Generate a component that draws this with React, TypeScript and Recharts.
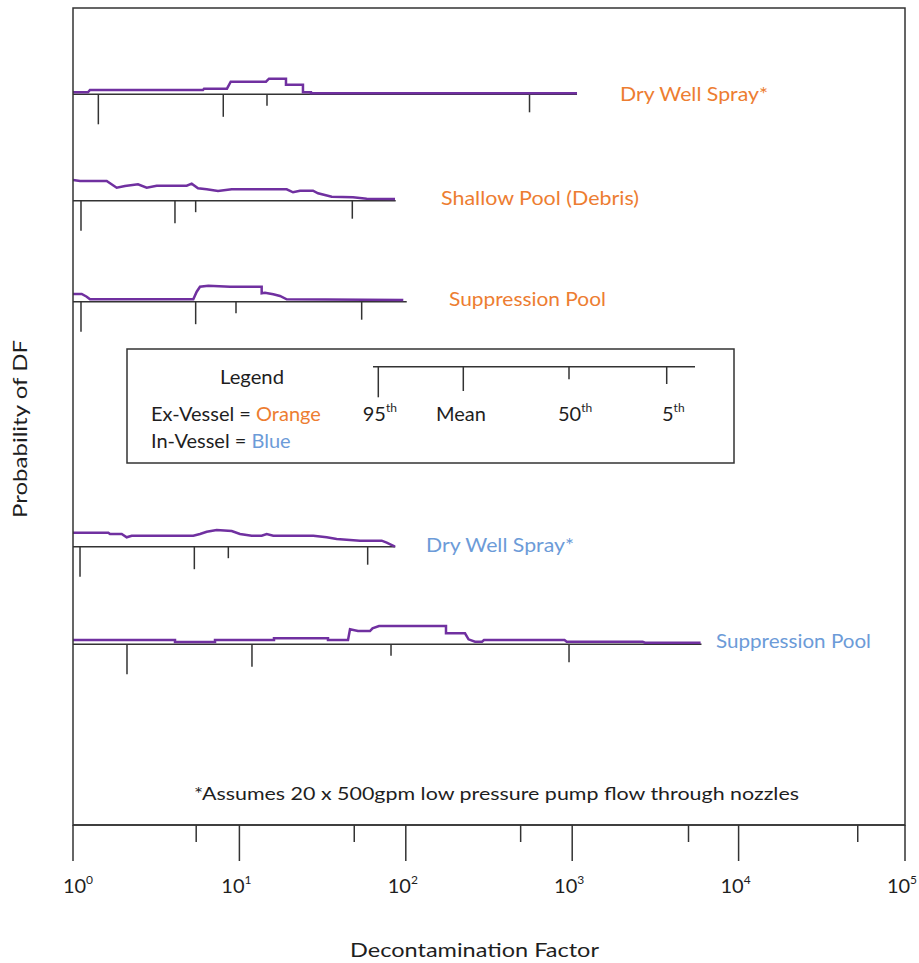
import React from 'react';
import { ComposedChart, Line, XAxis, YAxis, ReferenceLine } from 'recharts';

// ---------- data ----------
// Decontamination factor (x) and relative probability height (y) per distribution
const exDryWellDf = [1, 1.23, 1.265, 6.04, 6.13, 8.42, 8.87, 14.45, 15.06, 19.05, 19.05, 24.1, 24.1, 26.9, 26.9, 1069];
const exDryWellProb = [2, 2, 4.3, 4.3, 5.6, 5.6, 12.6, 12.6, 15.6, 15.6, 9.6, 9.6, 2, 2, 1, 1];

const exShallowDf = [1, 1.102, 1.594, 1.831, 2.053, 2.458, 2.773, 3.184, 4.822, 5.168, 5.639, 6.361, 7.437, 8.99, 19.24, 21.0, 23.13, 27.69, 29.68, 35.87, 48.16, 58.21, 86.1];
const exShallowProb = [20.7, 19.7, 19.7, 13, 14.7, 16.4, 13, 15, 15, 17, 12.4, 11.4, 9.7, 11.4, 11.4, 8.4, 10, 10, 7.4, 4, 3.4, 2, 1.7];

const exSuppDf = [1, 1.128, 1.209, 1.265, 5.284, 5.539, 5.798, 6.505, 8.78, 13.61, 13.61, 14.25, 15.98, 17.54, 19.24, 96.6];
const exSuppProb = [7.7, 7.7, 5, 2.4, 2.4, 10, 15, 16, 15, 15, 8.4, 9, 7.4, 5.7, 2.4, 1.7];

const inDryWellDf = [1, 1.63, 1.669, 1.962, 2.102, 2.253, 5.284, 5.798, 6.362, 7.305, 8.99, 10.08, 11.86, 13.61, 14.59, 15.98, 27.81, 33.46, 38.43, 53.07, 71.65, 76.78, 86.11];
const inDryWellProb = [14, 14, 12.7, 12.7, 9.4, 11, 11, 12.7, 15, 16.7, 15.7, 12.7, 11, 11, 12.7, 11, 11, 9.4, 7.7, 6, 6, 4, 0];

const inSuppDf = [1, 4.102, 4.102, 7.135, 7.135, 16.14, 16.14, 34.07, 34.07, 44.95, 46.21, 51.6, 60.94, 63.08, 69.02, 174.4, 174.4, 226.9, 238.2, 260.6, 287.1, 295.1, 898.9, 926.6, 2649, 2738, 5909];
const inSuppProb = [4.3, 4.3, 2.3, 2.3, 4.3, 4.3, 6, 6, 4.3, 4.3, 15, 13.3, 13.3, 16, 18.3, 18.3, 11, 11, 5, 2.6, 2.6, 4.3, 4.3, 2.6, 2.6, 1.6, 1.6];

// percentiles: [95th, mean, 50th, 5th]
const exDryWellPct = [1.42, 8.0, 14.65, 554];
const exShallowPct = [1.117, 4.1, 5.46, 47.7];
const exSuppPct = [1.117, 5.46, 9.54, 54.3];
const inDryWellPct = [1.102, 5.36, 8.58, 59.0];
const inSuppPct = [2.111, 11.9, 81.5, 957];

// end of each distribution's DF range
const rangeEnds = [1069, 86.96, 101.3, 86.5, 5984];

const rowNames = ['Dry Well Spray*', 'Shallow Pool (Debris)', 'Suppression Pool', 'Dry Well Spray*', 'Suppression Pool'];
const rowVessel = ['ex', 'ex', 'ex', 'in', 'in'];
const percentileNames = ['95', 'Mean', '50', '5'];

const majorTicks = [1, 10, 100, 1000, 10000, 100000];
const minorTicks = [5.5, 49, 490, 5000, 52000];

// ---------- layout / style ----------
const FONT = 'Lato, "Open Sans", sans-serif';
const ORANGE = '#ED7D31';
const BLUE = '#6C9BD8';
const PURPLE = '#7030A0';
const INK = '#333333';
const TEXT = '#1e1e1e';

const ROW_BASE = [730.7, 624.3, 523.3, 278.3, 180.7];
const PCT_LEN = [30, 22.5, 11.5, 18];
const LABEL_POS = [
  { x: 620, y: 101, w: 148 },
  { x: 441, y: 205, w: 198 },
  { x: 449, y: 306, w: 157 },
  { x: 426, y: 552, w: 148 },
  { x: 716, y: 648, w: 155 },
];

const dfs = [exDryWellDf, exShallowDf, exSuppDf, inDryWellDf, inSuppDf];
const probs = [exDryWellProb, exShallowProb, exSuppProb, inDryWellProb, inSuppProb];
const pcts = [exDryWellPct, exShallowPct, exSuppPct, inDryWellPct, inSuppPct];

const curveData = dfs.map((xs, r) => xs.map((x, i) => ({ x, y: ROW_BASE[r] + probs[r][i] })));
const baseData = rangeEnds.map((end, r) => [
  { x: 1, y: ROW_BASE[r] },
  { x: end, y: ROW_BASE[r] },
]);

const allTicks = [...majorTicks, ...minorTicks].sort((a, b) => a - b);

const renderTick = (props: any) => {
  const { x, y, payload } = props;
  const v = payload.value;
  const isMajor = majorTicks.includes(v);
  const exp = Math.round(Math.log10(v));
  return (
    <g>
      <line x1={x} y1={y} x2={x} y2={y + (isMajor ? 36 : 17)} stroke={INK} strokeWidth={1.5} />
      {isMajor && (
        <text x={x + (exp === 0 ? 5 : -3)} y={y + 68} textAnchor="middle" fontFamily={FONT} fontSize={20} fill={TEXT}>
          10
          <tspan dy={-9} fontSize={12}>
            {exp}
          </tspan>
        </text>
      )}
    </g>
  );
};

const LEGEND_TICKS = [
  { x: 378.3, y2: 397.3, lx: 362.7 },
  { x: 463.3, y2: 391, lx: 436 },
  { x: 569, y2: 379.3, lx: 558 },
  { x: 666.7, y2: 384, lx: 662 },
];

export default function App() {
  return (
    <div style={{ position: 'absolute', left: 0, top: 0, width: 919, height: 963, background: '#fff' }}>
      <ComposedChart width={919} height={963} margin={{ top: 8, right: 14, bottom: 0, left: 73 }}>
        <XAxis
          type="number"
          dataKey="x"
          scale="log"
          domain={[1, 100000]}
          allowDataOverflow
          ticks={allTicks}
          interval={0}
          tickSize={0}
          tickMargin={0}
          tickLine={false}
          tick={renderTick}
          height={138}
          axisLine={{ stroke: INK, strokeWidth: 1.5 }}
        />
        <YAxis type="number" domain={[0, 817]} hide allowDataOverflow />
        {baseData.map((d, r) => (
          <Line
            key={`base-${r}`}
            data={d}
            dataKey="y"
            type="linear"
            stroke={INK}
            strokeWidth={1.5}
            dot={false}
            activeDot={false}
            isAnimationActive={false}
          />
        ))}
        {pcts.map((vals, r) =>
          vals.map((v, k) => (
            <ReferenceLine
              key={`pct-${r}-${k}`}
              segment={[
                { x: v, y: ROW_BASE[r] },
                { x: v, y: ROW_BASE[r] - PCT_LEN[k] },
              ]}
              stroke={INK}
              strokeWidth={1.5}
              ifOverflow="visible"
            />
          ))
        )}
        {curveData.map((d, r) => (
          <Line
            key={`curve-${r}`}
            data={d}
            dataKey="y"
            type="linear"
            stroke={PURPLE}
            strokeWidth={2.5}
            dot={false}
            activeDot={false}
            isAnimationActive={false}
          />
        ))}
      </ComposedChart>
      <svg
        width={919}
        height={963}
        style={{ position: 'absolute', left: 0, top: 0, pointerEvents: 'none' }}
      >
        <rect x={73} y={8} width={832} height={817} fill="none" stroke={INK} strokeWidth={1.5} />
        {rowNames.map((name, r) => (
          <text
            key={`lbl-${r}`}
            x={LABEL_POS[r].x}
            y={LABEL_POS[r].y}
            fontFamily={FONT}
            fontSize={20}
            fill={rowVessel[r] === 'ex' ? ORANGE : BLUE}
            textLength={LABEL_POS[r].w}
            lengthAdjust="spacingAndGlyphs"
          >
            {name}
          </text>
        ))}
        {/* legend box */}
        <rect x={127} y={349} width={607} height={114} fill="none" stroke={INK} strokeWidth={1.5} />
        <text x={220} y={384} fontFamily={FONT} fontSize={20} fill={TEXT} textLength={64} lengthAdjust="spacingAndGlyphs">
          Legend
        </text>
        <text x={151} y={421} fontFamily={FONT} fontSize={20} fill={TEXT}>
          Ex-Vessel = <tspan fill={ORANGE}>Orange</tspan>
        </text>
        <text x={151} y={448} fontFamily={FONT} fontSize={20} fill={TEXT}>
          In-Vessel = <tspan fill={BLUE}>Blue</tspan>
        </text>
        <line x1={373} y1={366.7} x2={695} y2={366.7} stroke={INK} strokeWidth={1.5} />
        {LEGEND_TICKS.map((t, k) => (
          <g key={`lt-${k}`}>
            <line x1={t.x} y1={366.7} x2={t.x} y2={t.y2} stroke={INK} strokeWidth={1.5} />
            <text x={t.lx} y={421} fontFamily={FONT} fontSize={20} fill={TEXT}>
              {percentileNames[k]}
              {percentileNames[k] !== 'Mean' && (
                <tspan dy={-9} fontSize={12}>
                  th
                </tspan>
              )}
            </text>
          </g>
        ))}
        <text x={194} y={800} fontFamily={FONT} fontSize={18} fill={TEXT} textLength={605} lengthAdjust="spacingAndGlyphs">
          *Assumes 20 x 500gpm low pressure pump flow through nozzles
        </text>
        <text x={350} y={957} fontFamily={FONT} fontSize={20} fill={TEXT} textLength={249} lengthAdjust="spacingAndGlyphs">
          Decontamination Factor
        </text>
        <text
          x={0}
          y={0}
          transform="translate(27,429) rotate(-90)"
          textAnchor="middle"
          fontFamily={FONT}
          fontSize={20}
          fill={TEXT}
          textLength={178}
          lengthAdjust="spacingAndGlyphs"
        >
          Probability of DF
        </text>
      </svg>
    </div>
  );
}
